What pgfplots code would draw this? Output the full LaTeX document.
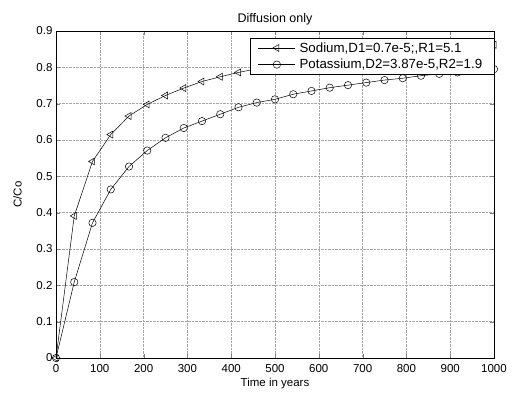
\documentclass[border=0pt]{standalone}
\usepackage{fontspec}
\setmainfont{Liberation Sans}
\usepackage{pgfplots}
\pgfplotsset{compat=1.18}
\begin{document}
\begin{tikzpicture}[x=1pt,y=1pt]
\begin{axis}[
  at={(56pt,34pt)}, anchor=south west,
  scale only axis, width=438pt, height=327pt,
  xmin=0, xmax=1000, ymin=0, ymax=0.9,
  xtick={0,100,...,1000}, ytick={0,0.1,...,0.9},
  /pgf/number format/assume math mode=true,
  /pgf/number format/1000 sep={},
  yticklabel style={/pgf/number format/fixed},
  tick label style={font=\fontsize{11.5}{13}\selectfont},
  xticklabel style={yshift=-3pt},
  xlabel={Time in years}, ylabel={C/Co},
  label style={font=\fontsize{11.5}{13}\selectfont},
  xlabel style={yshift=1pt},
  ylabel style={yshift=8pt},
  title={Diffusion only},
  title style={font=\fontsize{12.5}{14}\selectfont, yshift=-4pt},
  grid=major,
  major grid style={gray!70, densely dotted, line width=0.5pt},
  tick align=inside, major tick length=4pt,
  axis line style={black, line width=0.8pt},
  legend style={at={(1.001,0.978)}, anchor=north east, draw=black, fill=white,
    font=\fontsize{13.3}{16}\selectfont, inner xsep=8pt, inner ysep=2pt, row sep=1.5pt,
    legend cell align=left,
    nodes={inner xsep=4pt}},
  legend image code/.code={
    \draw[#1] (0cm,0cm) -- (1.3cm,0cm);
    \draw[#1, only marks] plot coordinates {(0.65cm,0cm)};
  },
]
\addplot[black, line width=0.5pt, mark=triangle, mark size=4pt, mark options={rotate=90, fill=white}] coordinates {
(0,0) (41.67,0.391) (83.33,0.541) (125,0.615) (166.67,0.666) (208.33,0.698)
(250,0.7225) (291.67,0.743) (333.33,0.761) (375,0.774) (416.67,0.786)
(458.33,0.796) (500,0.805) (541.67,0.812) (583.33,0.819) (625,0.825)
(666.67,0.831) (708.33,0.836) (750,0.840) (791.67,0.845) (833.33,0.849)
(875,0.852) (916.67,0.856) (958.33,0.859) (1000,0.862)};
\addlegendentry{Sodium,D1=0.7e-5;,R1=5.1}
\addplot[black, line width=0.5pt, mark=o, mark size=3.7pt] coordinates {
(0,0) (41.67,0.209) (83.33,0.372) (125,0.464) (166.67,0.527) (208.33,0.571)
(250,0.606) (291.67,0.633) (333.33,0.652) (375,0.671) (416.67,0.690)
(458.33,0.703) (500,0.712) (541.67,0.726) (583.33,0.735) (625,0.744)
(666.67,0.751) (708.33,0.758) (750,0.765) (791.67,0.770) (833.33,0.777)
(875,0.782) (916.67,0.786) (958.33,0.790) (1000,0.795)};
\addlegendentry{Potassium,D2=3.87e-5,R2=1.9}
\end{axis}
\pgfresetboundingbox
\path (0,0) rectangle (512pt,392pt);
\end{tikzpicture}
\end{document}
